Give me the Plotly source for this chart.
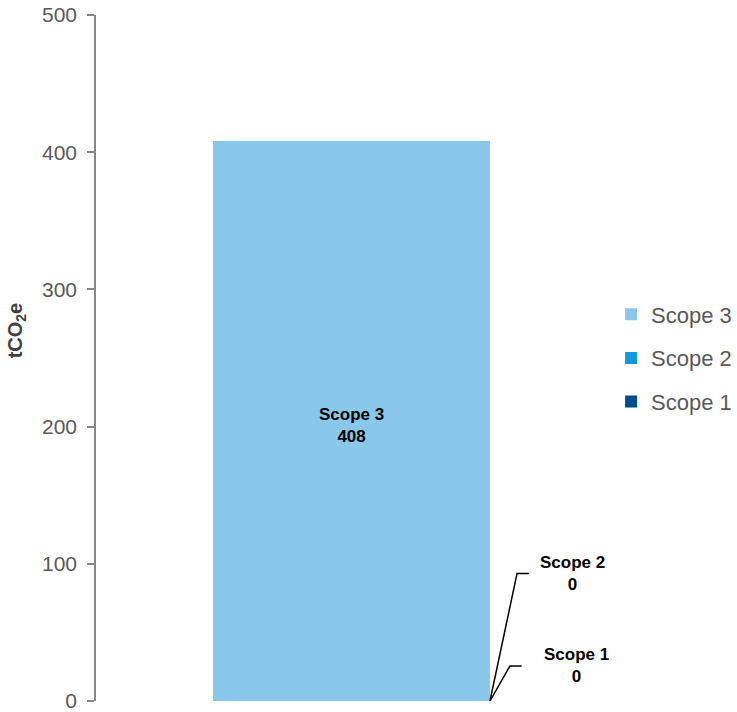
import plotly.graph_objects as go

# Emissions by scope (tCO2e), stacked in a single column
scopes = ["Scope 1", "Scope 2", "Scope 3"]
values = [0, 0, 408]
colors = ["#004B8D", "#0E9DD9", "#8AC8EB"]
y_ticks = [0, 100, 200, 300, 400, 500]

FONT = "Liberation Sans, Arial, sans-serif"
BAR_W = 0.542

fig = go.Figure()
for i, (name, val, col) in enumerate(zip(scopes, values, colors)):
    fig.add_trace(go.Bar(
        x=[0], y=[val], name=name, width=BAR_W, legendgroup=name,
        legendrank=len(scopes) - i,
        marker=dict(color=col, line=dict(width=0)),
    ))

edge = BAR_W / 2

# In-bar label for the large segment
fig.add_annotation(
    x=0, y=values[2] / 2 - 3, xref="x", yref="y",
    text=f"<b>{scopes[2]}<br>{values[2]}</b>", showarrow=False,
    font=dict(family=FONT, size=17, color="#000000"),
)

# Leader lines and labels for the zero-height segments
leaders = [
    (scopes[1], values[1], 0.324, 0.347, 93.0, 0.433, 93.0),
    (scopes[0], values[0], 0.310, 0.333, 25.5, 0.440, 26.0),
]
for name, val, xk, xe, yk, xl, yl in leaders:
    fig.add_shape(
        type="path", xref="x", yref="y",
        path=f"M {edge},{val} L {xk},{yk} L {xe},{yk}",
        line=dict(color="#000000", width=1.5),
    )
    fig.add_annotation(
        x=xl, y=yl, xref="x", yref="y",
        text=f"<b>{name}<br>{val}</b>", showarrow=False,
        font=dict(family=FONT, size=17, color="#000000"),
    )

# Rotated axis title
fig.add_annotation(
    x=-0.155, y=0.54, xref="paper", yref="paper", xanchor="center", yanchor="middle",
    text="<b>tCO<sub>2</sub>e</b>", textangle=-90, showarrow=False,
    font=dict(family=FONT, size=20, color="#404040"),
)

fig.update_layout(
    width=737, height=712,
    barmode="stack",
    plot_bgcolor="#FFFFFF", paper_bgcolor="#FFFFFF",
    margin=dict(l=96, r=130, t=15, b=11, autoexpand=False),
    font=dict(family=FONT, color="#595959"),
    showlegend=True,
    legend=dict(
        traceorder="grouped", x=1.008, xanchor="left", y=0.5, yanchor="middle",
        font=dict(family=FONT, size=22, color="#595959"),
        itemwidth=30, tracegroupgap=12, bgcolor="rgba(0,0,0,0)",
    ),
    xaxis=dict(
        range=[-0.5, 0.5], showticklabels=False, showline=False,
        showgrid=False, zeroline=False, ticks="", fixedrange=True,
    ),
    yaxis=dict(
        range=[0, 500], tickvals=y_ticks, ticks="outside", ticklen=7,
        tickcolor="#868686", tickwidth=1.5, showline=True, linecolor="#868686",
        linewidth=1.5, showgrid=False, zeroline=False, automargin=False,
        tickfont=dict(family=FONT, size=21, color="#595959"),
        ticklabelstandoff=6, ticklabeloverflow="allow",
    ),
)

fig.write_html("out.html")
